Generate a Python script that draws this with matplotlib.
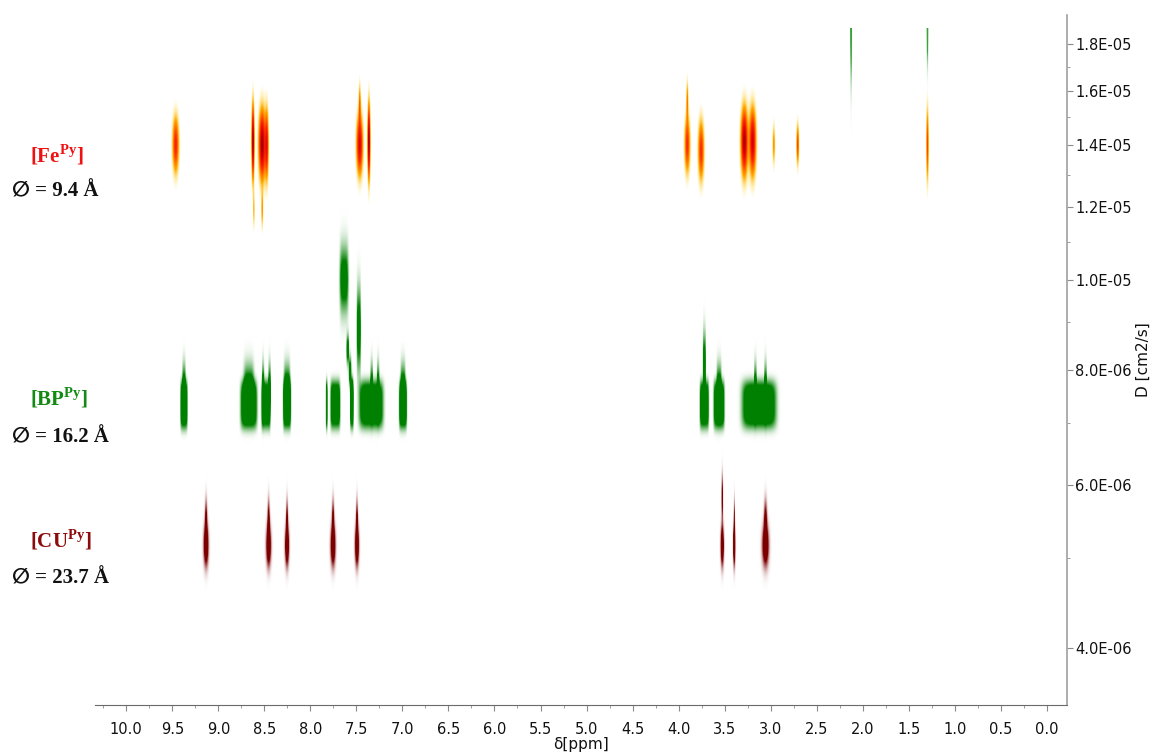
import numpy as np
import matplotlib.pyplot as plt
from matplotlib.colors import LinearSegmentedColormap, to_rgb
from matplotlib.ticker import FixedLocator, MultipleLocator, FuncFormatter, NullFormatter

plt.rcParams['font.family'] = ['DejaVu Sans']
plt.rcParams['mathtext.fontset'] = 'custom'
plt.rcParams['mathtext.rm'] = 'Liberation Serif:bold'
plt.rcParams['mathtext.bf'] = 'Liberation Serif:bold'

# axis ranges: chemical shift (ppm) and diffusion coefficient (cm2/s)
ppm_lim = (10.34, -0.22)
diff_lim = (3.47e-6, 1.935e-5)
diff_data = (3.47e-6, 1.877e-5)      # extent of the processed DOSY matrix
diff_major = [4e-6, 6e-6, 8e-6, 1.0e-5, 1.2e-5, 1.4e-5, 1.6e-5, 1.8e-5]
diff_minor = [5e-6, 7e-6, 9e-6, 1.1e-5, 1.3e-5, 1.5e-5, 1.7e-5]

# cross peaks: shift, D, half width (ppm), half height (log10 D), amplitude
fe_ppm  = [9.47, 8.63, 8.53, 8.48, 8.53, 8.62, 7.47, 7.47, 7.37, 3.91, 3.91,
           3.76, 3.29, 3.20, 2.97, 2.71, 1.30]
fe_diff = [1.40e-5, 1.41e-5, 1.40e-5, 1.40e-5, 1.19e-5, 1.19e-5, 1.40e-5, 1.55e-5,
           1.41e-5, 1.40e-5, 1.56e-5, 1.38e-5, 1.41e-5, 1.41e-5, 1.40e-5, 1.40e-5,
           1.40e-5]
fe_wppm = [0.032, 0.014, 0.034, 0.018, 0.010, 0.008, 0.032, 0.011, 0.014, 0.028,
           0.011, 0.030, 0.034, 0.034, 0.014, 0.014, 0.013]
fe_wlog = [0.028, 0.036, 0.034, 0.034, 0.018, 0.018, 0.030, 0.020, 0.036, 0.028,
           0.020, 0.030, 0.033, 0.033, 0.020, 0.020, 0.036]
fe_amp  = [0.80, 1.35, 1.30, 0.85, 0.40, 0.35, 1.05, 0.45, 1.35, 0.75, 0.45,
           0.75, 1.25, 1.10, 0.40, 0.65, 0.65]

# [BP^Py]: broad multiplet bands and the narrower lines rising out of them
bp_band_ppm  = [9.38, 8.675, 8.49, 8.26, 7.83, 7.735, 7.555, 7.345, 7.00,
                3.725, 3.565, 3.13]
bp_band_wppm = [0.038, 0.088, 0.048, 0.042, 0.010, 0.052, 0.018, 0.128, 0.042,
                0.048, 0.058, 0.182]
bp_band_diff = 7.32e-6
bp_line_ppm  = [9.38, 8.675, 8.52, 8.45, 8.26, 7.34, 7.27, 7.00, 3.565, 3.17, 3.06,
                3.725, 7.48, 7.64, 7.60, 7.575, 7.555]
bp_line_diff = [7.6e-6, 7.6e-6, 7.6e-6, 7.6e-6, 7.6e-6, 7.6e-6, 7.6e-6, 7.6e-6,
                7.6e-6, 7.6e-6, 7.6e-6, 8.1e-6, 8.83e-6, 1.0e-5, 8.4e-6, 7.95e-6,
                7.51e-6]
bp_line_wppm = [0.018, 0.055, 0.013, 0.013, 0.034, 0.014, 0.014, 0.026, 0.026,
                0.014, 0.014, 0.016, 0.022, 0.045, 0.014, 0.014, 0.014]
bp_line_wlog = [0.024, 0.024, 0.024, 0.024, 0.024, 0.024, 0.024, 0.024, 0.024,
                0.024, 0.024, 0.030, 0.040, 0.032, 0.014, 0.014, 0.014]

# [CU^Py]: each line has a broad lower part and a thin upper tip
cu_ppm  = [9.14, 8.46, 8.26, 7.76, 7.50, 3.53, 3.40, 3.06]
cu_wppm = [0.024, 0.024, 0.020, 0.024, 0.020, 0.016, 0.011, 0.032]
cu_diff_low = 5.15e-6
cu_tip_diff = [5.45e-6, 5.45e-6, 5.45e-6, 5.45e-6, 5.45e-6, 5.8e-6, 5.45e-6, 5.45e-6]

# fast diffusing impurity lines at the top edge
top_ppm = [2.13, 1.30]
top_wlog = [0.050, 0.032]

ppm_grid = np.linspace(ppm_lim[0], ppm_lim[1], 3200)
diff_grid = np.linspace(diff_data[0], diff_data[1], 900)
logd_grid = np.log10(diff_grid)


def field(ppm, diff, wppm, wlog, amp, px=2, py=2):
    """Sum of separable peak shapes on the (logD, ppm) grid."""
    out = np.zeros((logd_grid.size, ppm_grid.size))
    for p, d, wx, wy, a in zip(ppm, diff, wppm, wlog, amp):
        gx = np.exp(-(np.abs(ppm_grid - p) / wx) ** px)
        gy = np.exp(-(np.abs(logd_grid - np.log10(d)) / wy) ** py)
        out += a * np.outer(gy, gx)
    return out


def solid_rgba(intensity, color, scale, alpha_max=1.0):
    rgba = np.zeros(intensity.shape + (4,))
    rgba[..., :3] = to_rgb(color)
    rgba[..., 3] = np.clip(intensity / scale, 0, 1) * alpha_max
    return rgba


fe_cmap = LinearSegmentedColormap.from_list(
    'fe', [(0.0, '#ffd800'), (0.25, '#ffa000'), (0.5, '#ff3000'),
           (0.78, '#d80000'), (1.0, '#7a0000')])

fe_I = field(fe_ppm, fe_diff, fe_wppm, fe_wlog, fe_amp)
fe_rgba = fe_cmap(np.clip(fe_I / 1.4, 0, 1))
fe_rgba[..., 3] = np.clip((fe_I - 0.03) / 0.3, 0, 1)

nb = len(bp_band_ppm)
bp_I = field(bp_band_ppm, [bp_band_diff] * nb, bp_band_wppm, [0.025] * nb,
             [1.0] * nb, px=6, py=4)
nl = len(bp_line_ppm)
bp_I += field(bp_line_ppm, bp_line_diff, bp_line_wppm, bp_line_wlog,
              [0.9] * nl, px=4, py=2)
bp_rgba = solid_rgba(bp_I, '#008000', 0.6)

nc = len(cu_ppm)
cu_I = field(cu_ppm, [cu_diff_low] * nc, cu_wppm, [0.020] * nc, [1.0] * nc)
cu_I += field(cu_ppm, cu_tip_diff, [w * 0.5 for w in cu_wppm], [0.022] * nc,
              [0.7] * nc)
cu_rgba = solid_rgba(cu_I, '#7d0000', 0.5)

nt = len(top_ppm)
top_I = field(top_ppm, [diff_data[1]] * nt, [0.008] * nt, top_wlog, [1.0] * nt)
top_rgba = solid_rgba(top_I, '#2a952a', 0.5, 0.9)

fig = plt.figure(figsize=(11.59, 7.56), dpi=100)
ax = fig.add_axes([95 / 1159, 1 - 705 / 756, (1067 - 95) / 1159, 690 / 756])
ax.set_yscale('log')
extent = [ppm_lim[0], ppm_lim[1], diff_data[0], diff_data[1]]
for rgba in (top_rgba, bp_rgba, cu_rgba, fe_rgba):
    ax.imshow(rgba, extent=extent, origin='lower', aspect='auto',
              interpolation='bilinear')
ax.set_xlim(*ppm_lim)
ax.set_ylim(*diff_lim)

# axes cosmetics
axis_grey = '#8a8a8a'
for side in ('top', 'left'):
    ax.spines[side].set_visible(False)
ax.spines['bottom'].set_color('#6a6a6a')
ax.spines['right'].set_color('#a0a0a0')
ax.spines['right'].set_linewidth(1.2)

ax.xaxis.set_major_locator(MultipleLocator(0.5))
ax.xaxis.set_minor_locator(MultipleLocator(0.25))
ax.xaxis.set_major_formatter(FuncFormatter(lambda v, _: f'{v:.1f}'))
ax.tick_params(axis='x', which='major', length=4, color=axis_grey, pad=8,
               labelsize=10.5, labelcolor='#111111')
ax.tick_params(axis='x', which='minor', length=2.5, color=axis_grey)

ax.yaxis.tick_right()
ax.yaxis.set_label_position('right')
ax.yaxis.set_major_locator(FixedLocator(diff_major))
ax.yaxis.set_minor_locator(FixedLocator(diff_minor))
ax.yaxis.set_major_formatter(FuncFormatter(lambda v, _: f'{v:.1E}'))
ax.yaxis.set_minor_formatter(NullFormatter())
ax.tick_params(axis='y', which='major', length=4, color=axis_grey, pad=2,
               labelsize=10.5, labelcolor='#111111')
ax.tick_params(axis='y', which='minor', length=2.5, color=axis_grey)

ax.set_xlabel('δ[ppm]', fontsize=11, labelpad=0, color='#111111')
ax.set_ylabel('D [cm2/s]', fontsize=11, labelpad=3, color='#111111')

# compound labels with hydrodynamic diameters
serif = ['Liberation Serif', 'DejaVu Sans']
labels = [('[Fe$^{\\rm Py}$]', '#ee1111', 162, '∅ = 9.4 Å', 196),
          ('[BP$^{\\rm Py}$]', '#138a13', 405, '∅ = 16.2 Å', 442),
          ('[CU$^{\\rm Py}$]', '#8c0a0a', 547, '∅ = 23.7 Å', 583)]
for name, color, y_name, size_text, y_size in labels:
    fig.text(30 / 1159, 1 - y_name / 756, name, color=color, fontsize=15,
             fontweight='bold', family=serif, va='baseline')
    fig.text(12 / 1159, 1 - y_size / 756, size_text, color='#111111', fontsize=15,
             fontweight='bold', family=serif, va='baseline')

fig.savefig('out.png', dpi=100)
